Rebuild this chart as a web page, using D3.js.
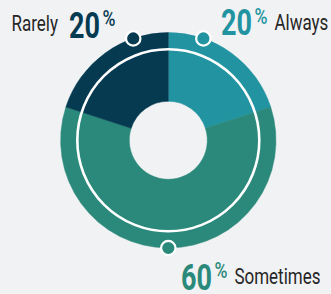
<!DOCTYPE html>
<html>
<head>
<meta charset="utf-8">
<script src="https://cdn.jsdelivr.net/npm/d3@7"></script>
<style>
  html, body { margin: 0; padding: 0; background: #f1f2f4; }
  svg { display: block; }
  text { font-family: Roboto, "Liberation Sans", sans-serif; }
</style>
</head>
<body>
<div id="chart"></div>
<script>
// data
var categories = ["Always", "Sometimes", "Rarely"];
var values = [20, 60, 20];
var colors = ["#2294a1", "#2a897b", "#053a51"];

var width = 331, height = 294;
var cx = 168.3, cy = 140.3,
    outerR = 107.7, innerR = 39, ringR = 91;

var svg = d3.select("#chart").append("svg")
    .attr("width", width)
    .attr("height", height);

var g = svg.append("g").attr("transform", "translate(" + cx + "," + cy + ")");

var pie = d3.pie().sort(null).value(function (d) { return d; });
var arcs = pie(values);
var arc = d3.arc().innerRadius(innerR).outerRadius(outerR);

g.selectAll("path.slice")
    .data(arcs)
    .enter()
    .append("path")
    .attr("class", "slice")
    .attr("d", arc)
    .attr("fill", function (d, i) { return colors[i]; })
    .attr("stroke", function (d, i) { return colors[i]; })
    .attr("stroke-width", 0.5);

// white ring across the donut
g.append("circle")
    .attr("r", ringR)
    .attr("fill", "none")
    .attr("stroke", "#ffffff")
    .attr("stroke-width", 2.6);

// marker dots sit on the outer edge, pulled toward the label side
var markerPull = [-17, 0, 17];
arcs.forEach(function (d, i) {
    var a = (d.startAngle + d.endAngle) / 2 + markerPull[i] * Math.PI / 180;
    g.append("circle")
        .attr("cx", Math.sin(a) * outerR)
        .attr("cy", -Math.cos(a) * outerR)
        .attr("r", 7.2)
        .attr("fill", colors[i])
        .attr("stroke", "#ffffff")
        .attr("stroke-width", 2.2);
});

// condensed look: draw the glyphs squeezed horizontally
function piece(x, y, str, size, weight, fill, sx) {
    var t = svg.append("text")
        .attr("transform", "translate(" + x + "," + y + ") scale(" + sx + ",1)")
        .attr("font-size", size)
        .attr("font-weight", weight)
        .attr("fill", fill)
        .text(str);
    return t.node().getComputedTextLength() * sx;
}

var numSize = 37.5, numSx = 0.72,
    pctSize = 22, pctSx = 0.8,
    nameSize = 21.5, nameSx = 0.79,
    nameColor = "#262626";

// number start x and baseline for each label
var labelPos = [
    {x: 221, y: 35, side: "right"},
    {x: 181, y: 289.5, side: "right"},
    {x: 69, y: 37.7, side: "left"}
];

categories.forEach(function (name, i) {
    var p = labelPos[i];
    var w = piece(p.x, p.y, values[i], numSize, "bold", colors[i], numSx);
    var pw = piece(p.x + w + 2.5, p.y - 11.5, "%", pctSize, 500, colors[i], pctSx);
    if (p.side === "left") {
        // measure then right-align the name before the number
        var t = svg.append("text")
            .attr("font-size", nameSize)
            .attr("fill", nameColor)
            .text(name);
        var nw = t.node().getComputedTextLength() * nameSx;
        t.attr("transform", "translate(" + (p.x - 11 - nw) + "," + (p.y - 6.5) + ") scale(" + nameSx + ",1)");
    } else {
        piece(p.x + w + 2.5 + pw + 7, p.y - 5.5, name, nameSize, "normal", nameColor, nameSx);
    }
});
</script>
</body>
</html>
